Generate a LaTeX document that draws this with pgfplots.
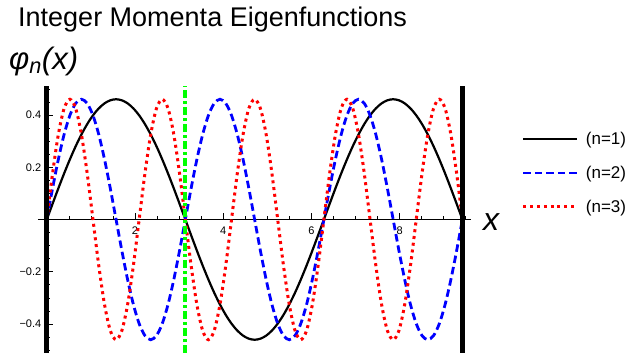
\documentclass[border=0pt]{standalone}
\usepackage{fontspec}
\setmainfont{Liberation Sans}
\usepackage{pgfplots}
\usepackage{pgfplotstable}
\pgfplotsset{compat=1.18}

% phi_n(x) for n = 1, 2, 3 on the box [0, 3pi], sampled every pi/24
\pgfplotstableread{
x n1 n2 n3
0 0 0 0
0.1309 0.0601 0.1192 0.1763
0.2618 0.1192 0.2303 0.3257
0.3927 0.1763 0.3257 0.4256
0.5236 0.2303 0.3990 0.4607
0.6545 0.2805 0.4450 0.4256
0.7854 0.3257 0.4607 0.3257
0.9163 0.3655 0.4450 0.1763
1.0472 0.3990 0.3990 0
1.1781 0.4256 0.3257 -0.1763
1.3090 0.4450 0.2303 -0.3257
1.4399 0.4567 0.1192 -0.4256
1.5708 0.4607 0 -0.4607
1.7017 0.4567 -0.1192 -0.4256
1.8326 0.4450 -0.2303 -0.3257
1.9635 0.4256 -0.3257 -0.1763
2.0944 0.3990 -0.3990 0
2.2253 0.3655 -0.4450 0.1763
2.3562 0.3257 -0.4607 0.3257
2.4871 0.2805 -0.4450 0.4256
2.6180 0.2303 -0.3990 0.4607
2.7489 0.1763 -0.3257 0.4256
2.8798 0.1192 -0.2303 0.3257
3.0107 0.0601 -0.1192 0.1763
3.1416 0 0 0
3.2725 -0.0601 0.1192 -0.1763
3.4034 -0.1192 0.2303 -0.3257
3.5343 -0.1763 0.3257 -0.4256
3.6652 -0.2303 0.3990 -0.4607
3.7961 -0.2805 0.4450 -0.4256
3.9270 -0.3257 0.4607 -0.3257
4.0579 -0.3655 0.4450 -0.1763
4.1888 -0.3990 0.3990 0
4.3197 -0.4256 0.3257 0.1763
4.4506 -0.4450 0.2303 0.3257
4.5815 -0.4567 0.1192 0.4256
4.7124 -0.4607 0 0.4607
4.8433 -0.4567 -0.1192 0.4256
4.9742 -0.4450 -0.2303 0.3257
5.1051 -0.4256 -0.3257 0.1763
5.2360 -0.3990 -0.3990 0
5.3669 -0.3655 -0.4450 -0.1763
5.4978 -0.3257 -0.4607 -0.3257
5.6287 -0.2805 -0.4450 -0.4256
5.7596 -0.2303 -0.3990 -0.4607
5.8905 -0.1763 -0.3257 -0.4256
6.0214 -0.1192 -0.2303 -0.3257
6.1523 -0.0601 -0.1192 -0.1763
6.2832 0 0 0
6.4141 0.0601 0.1192 0.1763
6.5450 0.1192 0.2303 0.3257
6.6759 0.1763 0.3257 0.4256
6.8068 0.2303 0.3990 0.4607
6.9377 0.2805 0.4450 0.4256
7.0686 0.3257 0.4607 0.3257
7.1995 0.3655 0.4450 0.1763
7.3304 0.3990 0.3990 0
7.4613 0.4256 0.3257 -0.1763
7.5922 0.4450 0.2303 -0.3257
7.7231 0.4567 0.1192 -0.4256
7.8540 0.4607 0 -0.4607
7.9849 0.4567 -0.1192 -0.4256
8.1158 0.4450 -0.2303 -0.3257
8.2467 0.4256 -0.3257 -0.1763
8.3776 0.3990 -0.3990 0
8.5085 0.3655 -0.4450 0.1763
8.6394 0.3257 -0.4607 0.3257
8.7703 0.2805 -0.4450 0.4256
8.9012 0.2303 -0.3990 0.4607
9.0321 0.1763 -0.3257 0.4256
9.1630 0.1192 -0.2303 0.3257
9.2939 0.0601 -0.1192 0.1763
9.4248 0 0 0
}\eigen

\begin{document}
\begin{tikzpicture}
\useasboundingbox (0pt,0pt) rectangle (627pt,-358pt);
\node[anchor=base west, inner sep=0pt, font=\fontsize{27}{32}\selectfont]
  at (18pt,-27pt) {Integer Momenta Eigenfunctions};
\node[anchor=base west, inner sep=0pt, font=\fontsize{31}{34}\selectfont\itshape]
  at (9pt,-70pt) {φ\textsubscript{n}(x)};
\node[anchor=base west, inner sep=0pt, font=\fontsize{32}{36}\selectfont\itshape]
  at (483pt,-231pt) {x};
\begin{axis}[
  at={(46.8pt,-219.5pt)}, anchor=origin,
  x=44.1pt, y=261pt,
  xmin=-0.2, xmax=9.62, ymin=-0.51, ymax=0.51,
  axis lines=middle,
  axis line style={-, line width=0.9pt},
  tick align=inside,
  tick style={black, line width=0.6pt},
  major tick length=6pt, minor tick length=3.5pt,
  xtick={2,4,6,8}, xticklabels={2,4,6,8},
  minor xtick={0.5,1,1.5,2.5,3,3.5,4.5,5,5.5,6.5,7,7.5,8.5,9,9.5},
  ytick={-0.4,-0.2,0.2,0.4}, yticklabels={−0.4,−0.2,0.2,0.4},
  minor ytick={-0.5,-0.45,-0.35,-0.3,-0.25,-0.15,-0.1,-0.05,0.05,0.1,0.15,0.25,0.3,0.35,0.45,0.5},
  tick label style={font=\fontsize{11}{12}\selectfont},
  xticklabel style={yshift=-4pt},
  yticklabel style={xshift=-2pt},
  legend style={at={(axis description cs:1.117,0.675)}, anchor=west,
    draw=none, fill=none, inner sep=0pt, row sep=16pt,
    font=\fontsize{17}{18}\selectfont,
    /tikz/every odd column/.append style={column sep=5pt}},
  legend cell align=left,
  legend image code/.code={\draw[#1] (0pt,0pt) -- (54pt,0pt);},
]
\addplot[black, line width=2.2pt, smooth] table[x=x, y=n1] {\eigen};
\addlegendentry{(n=1)}
\addplot[blue, line width=2.8pt, smooth, dash pattern=on 7.5pt off 4pt] table[x=x, y=n2] {\eigen};
\addlegendentry{(n=2)}
\addplot[red, line width=3pt, smooth, dash pattern=on 3pt off 3.8pt] table[x=x, y=n3] {\eigen};
\addlegendentry{(n=3)}
% marker at x = pi
\addplot[green, line width=4pt, dash pattern=on 8pt off 3pt on 3pt off 3pt, forget plot]
  coordinates {(3.1416,-0.51) (3.1416,0.51)};
% walls of the box
\addplot[black, line width=5pt, forget plot] coordinates {(0,-0.51) (0,0.51)};
\addplot[black, line width=5pt, forget plot] coordinates {(9.4248,-0.51) (9.4248,0.51)};
\end{axis}
\end{tikzpicture}
\end{document}
